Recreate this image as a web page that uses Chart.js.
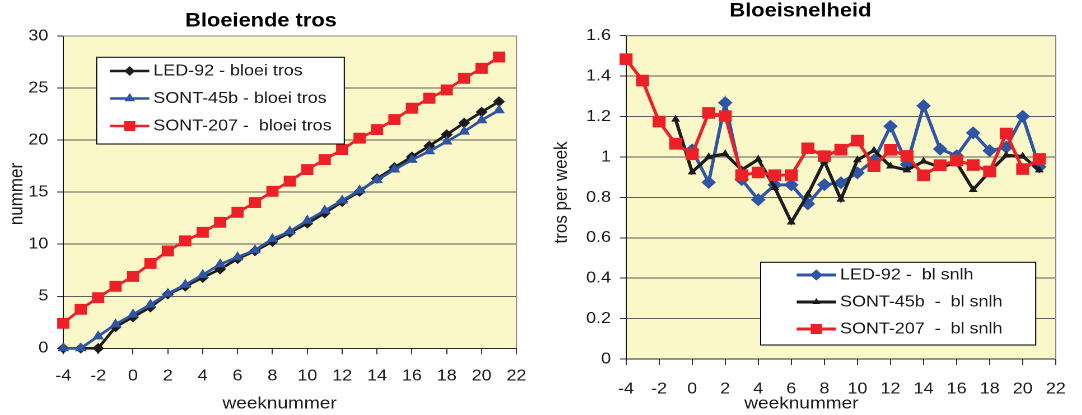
<!DOCTYPE html>
<html>
<head>
<meta charset="utf-8">
<title>Bloeiende tros en bloeisnelheid</title>
<script src="https://cdn.jsdelivr.net/npm/chart.js@4.4.1/dist/chart.umd.min.js"></script>
<style>
  html, body { margin: 0; padding: 0; background: #fff; width: 1082px; height: 415px; overflow: hidden; }
  /* both panels use a slightly wide text face: the canvas is stretched horizontally */
  .panel { position: absolute; top: 0; transform: scaleX(1.12); transform-origin: 0 0; }
</style>
</head>
<body>
<div class="panel" style="left:0"><canvas id="tros" width="482" height="415"></canvas></div>
<div class="panel" style="left:540px"><canvas id="snelheid" width="484" height="415"></canvas></div>
<script>
// ---- data -------------------------------------------------------------
const weeks = [-4, -3, -2, -1, 0, 1, 2, 3, 4, 5, 6, 7, 8, 9, 10, 11, 12, 13, 14, 15, 16, 17, 18, 19, 20, 21];
const weekTicks = [-4, -2, 0, 2, 4, 6, 8, 10, 12, 14, 16, 18, 20, 22];

// cumulative flowering truss number
const ledTros     = [0, 0, 0, 2.05, 3.0, 3.95, 5.2, 5.95, 6.8, 7.6, 8.6, 9.35, 10.25, 11.12, 12.0, 12.98, 14.08, 15.05, 16.3, 17.37, 18.39, 19.44, 20.53, 21.65, 22.7, 23.7];
const sont45Tros  = [0, 0, 1.15, 2.3, 3.25, 4.2, 5.25, 6.1, 7.05, 8.07, 8.75, 9.42, 10.5, 11.23, 12.27, 13.22, 14.2, 15.17, 16.15, 17.17, 18.1, 18.93, 19.86, 20.82, 21.91, 22.87];
const sont207Tros = [2.4, 3.75, 4.86, 5.95, 6.9, 8.15, 9.35, 10.32, 11.14, 12.1, 13.06, 14.0, 15.08, 16.05, 17.17, 18.13, 19.09, 20.18, 21.01, 21.97, 23.06, 24.02, 24.82, 25.94, 26.89, 27.98];
const trosTicks = [0, 5, 10, 15, 20, 25, 30];

// flowering rate (trusses per week)
const ledSnelheid     = [null, null, null, null, 1.035, 0.874, 1.268, 0.888, 0.788, 0.862, 0.862, 0.768, 0.863, 0.872, 0.921, 0.984, 1.152, 0.963, 1.253, 1.039, 1.006, 1.119, 1.031, 1.048, 1.201, 0.951];
const sont45Snelheid  = [null, null, null, 1.186, 0.925, 1.0, 1.015, 0.936, 0.988, 0.848, 0.677, 0.814, 0.979, 0.79, 0.985, 1.032, 0.954, 0.935, 0.978, 0.949, 0.972, 0.838, 0.928, 1.008, 1.003, 0.935];
const sont207Snelheid = [1.484, 1.378, 1.175, 1.065, 1.013, 1.218, 1.202, 0.91, 0.923, 0.91, 0.91, 1.043, 1.004, 1.036, 1.081, 0.954, 1.035, 1.005, 0.909, 0.959, 0.982, 0.96, 0.928, 1.116, 0.94, 0.99];
const snelTicks = [0, 0.2, 0.4, 0.6, 0.8, 1.0, 1.2, 1.4, 1.6];

// ---- style ------------------------------------------------------------
const FONT = "'Liberation Sans', Arial, Helvetica, sans-serif";
const BLACK = '#1c1c1c';
const BLUE = '#2f55a5';
const RED = '#ec2127';
const PLOT_BG = '#faf7c8';
const H = 415;

Chart.defaults.font.family = FONT;
Chart.defaults.color = '#1a1a1a';

function series(values) {
  return weeks.map((w, i) => ({ x: w, y: values[i] })).filter(p => p.y !== null);
}

function lineSet(label, values, color, style, radius, width, order) {
  return {
    label, data: series(values), order,
    borderColor: color, backgroundColor: color,
    pointBackgroundColor: color, pointBorderColor: color,
    borderWidth: width, pointStyle: style, pointRadius: radius,
    pointBorderWidth: 1, pointHoverRadius: radius,
    tension: 0, fill: false, clip: false
  };
}

// pale plot background and the grey top/right frame
const plotFrame = {
  id: 'plotFrame',
  beforeDraw(chart, args, o) {
    const { ctx, chartArea: a } = chart;
    ctx.save();
    ctx.fillStyle = o.fill;
    ctx.fillRect(a.left, a.top, a.right - a.left, a.bottom - a.top);
    ctx.restore();
  },
  beforeDatasetsDraw(chart, args, o) {
    const { ctx, chartArea: a } = chart;
    ctx.save();
    ctx.strokeStyle = o.frame;
    ctx.lineWidth = 1;
    ctx.beginPath();
    ctx.moveTo(a.left, a.top);
    ctx.lineTo(a.right, a.top);
    ctx.lineTo(a.right, a.bottom);
    ctx.stroke();
    ctx.restore();
  }
};

// boxed legend inside the plot: line sample + marker + label per series
const boxLegend = {
  id: 'boxLegend',
  afterDraw(chart, args, o) {
    const ctx = chart.ctx;
    ctx.save();
    ctx.fillStyle = '#fff';
    ctx.strokeStyle = '#000';
    ctx.lineWidth = 1;
    ctx.fillRect(o.left, o.top, o.right - o.left, o.bottom - o.top);
    ctx.strokeRect(o.left, o.top, o.right - o.left, o.bottom - o.top);
    chart.data.datasets.forEach((ds, i) => {
      const y = o.rows[i];
      ctx.strokeStyle = ds.borderColor;
      ctx.lineWidth = ds.borderWidth;
      ctx.beginPath();
      ctx.moveTo(o.lineFrom, y);
      ctx.lineTo(o.lineTo, y);
      ctx.stroke();
      ctx.fillStyle = ds.pointBackgroundColor;
      ctx.strokeStyle = ds.pointBorderColor;
      ctx.lineWidth = 1;
      Chart.helpers.drawPoint(ctx, { pointStyle: ds.pointStyle, rotation: 0, radius: ds.pointRadius * o.markerScale, borderWidth: 1 }, o.marker, y);
      ctx.fillStyle = '#1a1a1a';
      ctx.font = o.font;
      ctx.textAlign = 'left';
      ctx.textBaseline = 'middle';
      ctx.fillText(ds.label, o.textX, y);
    });
    ctx.restore();
  }
};

// axis captions
const captions = {
  id: 'captions',
  afterDraw(chart, args, o) {
    const ctx = chart.ctx;
    (o.items || []).forEach(it => {
      ctx.save();
      ctx.translate(it.x, it.y);
      ctx.rotate(it.rotation || 0);
      ctx.font = it.font;
      ctx.fillStyle = '#1a1a1a';
      ctx.textAlign = 'center';
      ctx.textBaseline = 'middle';
      ctx.fillText(it.text, 0, 0);
      ctx.restore();
    });
  }
};

// horizontal placement of the chart title
const titleCenter = {
  id: 'titleCenter',
  afterLayout(chart, args, o) {
    const t = chart.titleBlock;
    if (t && o.x !== undefined) { t.left = o.x - 200; t.right = o.x + 200; }
  }
};

function xAxis(plotBottom, tickPad) {
  return {
    type: 'linear',
    min: weekTicks[0], max: weekTicks[weekTicks.length - 1],
    afterBuildTicks: s => { s.ticks = weekTicks.map(v => ({ value: v })); },
    afterFit: s => { s.height = H - plotBottom; },
    ticks: { font: { size: 16 }, color: '#1a1a1a', padding: tickPad, maxRotation: 0, autoSkip: false, callback: v => String(v) },
    grid: { drawOnChartArea: false, drawTicks: true, tickLength: 6, tickColor: '#333', tickWidth: 1 },
    border: { display: true, color: '#2a2a2a', width: 1 },
    title: { display: false }
  };
}

function yAxis(tickValues, plotLeft, fmt) {
  return {
    type: 'linear',
    min: tickValues[0], max: tickValues[tickValues.length - 1],
    afterBuildTicks: s => { s.ticks = tickValues.map(v => ({ value: v })); },
    afterFit: s => { s.width = plotLeft; },
    ticks: { font: { size: 16 }, color: '#1a1a1a', padding: 8, callback: fmt },
    grid: { color: '#5e5e5e', lineWidth: 1, drawTicks: true, tickLength: 5.4, tickColor: '#333' },
    border: { display: true, color: '#111', width: 1 },
    title: { display: false }
  };
}

// ---- Bloeiende tros ----------------------------------------------------
new Chart(document.getElementById('tros'), {
  type: 'line',
  data: {
    datasets: [
      lineSet('LED-92 - bloei tros', ledTros, BLACK, 'rectRot', 4.6, 2.6, 2),
      lineSet('SONT-45b - bloei tros', sont45Tros, BLUE, 'triangle', 5, 2.6, 1),
      lineSet('SONT-207 -  bloei tros', sont207Tros, RED, 'rect', 7, 2.6, 0)
    ]
  },
  options: {
    responsive: false, animation: false, devicePixelRatio: 2,
    layout: { padding: { left: 0, top: 0, right: 482 - 463.8, bottom: 0 } },
    scales: {
      x: xAxis(348.3, 12),
      y: yAxis(trosTicks, 56.5, v => String(v))
    },
    plugins: {
      legend: { display: false },
      tooltip: { enabled: false },
      title: {
        display: true, text: 'Bloeiende tros', color: '#000',
        font: { size: 19.5, weight: 'bold', lineHeight: 1 },
        padding: { top: 11.25, bottom: 5.25 }
      },
      titleCenter: { x: 233 },
      plotFrame: { fill: PLOT_BG, frame: '#8a8a8a' },
      boxLegend: {
        left: 86.3, right: 307.4, top: 57.3, bottom: 144,
        rows: [71, 98.5, 126], lineFrom: 98.2, lineTo: 133.3, marker: 115.8, textX: 136.9,
        markerScale: 0.9, font: '16px ' + FONT
      },
      captions: {
        items: [
          { text: 'weeknummer', x: 249.6, y: 404, font: '17px ' + FONT },
          { text: 'nummer', x: 15.4, y: 194, rotation: -Math.PI / 2, font: '17px ' + FONT }
        ]
      }
    }
  },
  plugins: [plotFrame, boxLegend, captions, titleCenter]
});

// ---- Bloeisnelheid -----------------------------------------------------
new Chart(document.getElementById('snelheid'), {
  type: 'line',
  data: {
    datasets: [
      lineSet('LED-92 -  bl snlh', ledSnelheid, BLUE, 'rectRot', 5.8, 3, 2),
      lineSet('SONT-45b  -  bl snlh', sont45Snelheid, BLACK, 'triangle', 3.6, 3, 1),
      lineSet('SONT-207  -  bl snlh', sont207Snelheid, RED, 'rect', 7.5, 3, 0)
    ]
  },
  options: {
    responsive: false, animation: false, devicePixelRatio: 2,
    layout: { padding: { left: 0, top: 0, right: 484 - 468.1, bottom: 0 } },
    scales: {
      x: xAxis(359, 14.6),
      y: yAxis(snelTicks, 76.8, v => String(Math.round(v * 10) / 10))
    },
    plugins: {
      legend: { display: false },
      tooltip: { enabled: false },
      title: {
        display: true, text: 'Bloeisnelheid', color: '#000',
        font: { size: 19.5, weight: 'bold', lineHeight: 1 },
        padding: { top: 1.45, bottom: 14.75 }
      },
      titleCenter: { x: 232.5 },
      plotFrame: { fill: PLOT_BG, frame: '#8a8a8a' },
      boxLegend: {
        left: 197, right: 442.6, top: 262.3, bottom: 345,
        rows: [275, 302, 329], lineFrom: 229.2, lineTo: 264.3, marker: 246.7, textX: 267.9,
        markerScale: 0.85, font: '16px ' + FONT
      },
      captions: {
        items: [
          { text: 'weeknummer', x: 233.4, y: 404, font: '17px ' + FONT },
          { text: 'tros per week', x: 19.2, y: 192.5, rotation: -Math.PI / 2, font: '17px ' + FONT }
        ]
      }
    }
  },
  plugins: [plotFrame, boxLegend, captions, titleCenter]
});
</script>
</body>
</html>
